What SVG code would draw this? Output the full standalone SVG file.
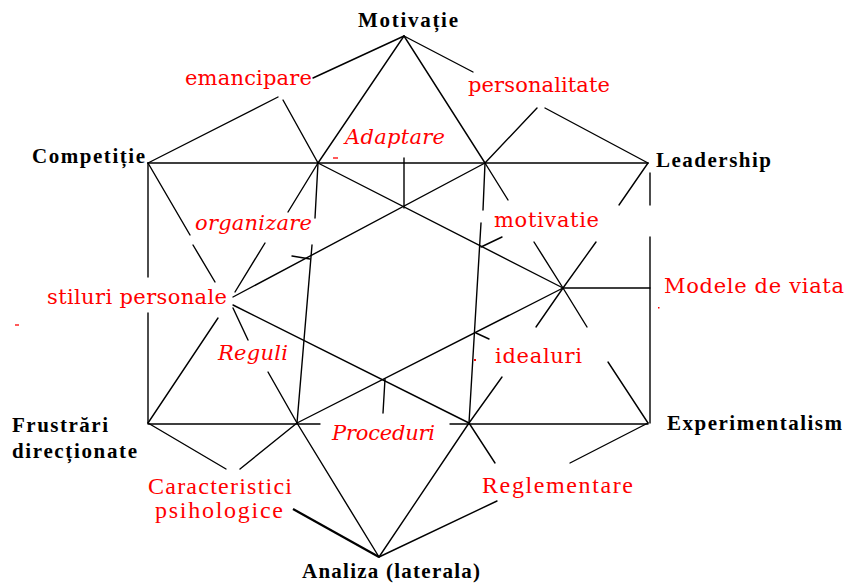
<svg xmlns="http://www.w3.org/2000/svg" width="848" height="586" viewBox="0 0 848 586">
<style>
.ln{stroke:#000;stroke-width:1.4;fill:none;stroke-linecap:round}
.thick{stroke:#000;stroke-width:2.2;fill:none}
.blk{font-family:"Liberation Serif",serif;font-weight:bold;font-size:21px;fill:#000}
.red{font-family:"DejaVu Serif","Liberation Serif",serif;font-size:21px;fill:#ff0000}
.red2{font-family:"Liberation Serif",serif;font-size:24px;fill:#ff0000}
.it{font-style:italic}
.mk{stroke:#ff0000;stroke-width:1.3}
</style>
<rect width="848" height="586" fill="#fff"/>
<g id="connectors">
<line class="ln" x1="404" y1="36" x2="313" y2="78"/>
<line class="ln" x1="404" y1="36" x2="318" y2="163"/>
<line class="ln" x1="404" y1="36" x2="485" y2="163"/>
<line class="ln" x1="404" y1="36" x2="473" y2="72"/>
<line class="ln" x1="278" y1="97" x2="148" y2="163"/>
<line class="ln" x1="283" y1="100" x2="318" y2="163"/>
<line class="ln" x1="537" y1="108" x2="485" y2="163"/>
<line class="ln" x1="545" y1="108" x2="648" y2="163"/>
<line class="ln" x1="148" y1="163" x2="648" y2="163"/>
<line class="ln" x1="404" y1="158" x2="404" y2="208"/>
<line class="ln" x1="318" y1="163" x2="563" y2="288"/>
<line class="ln" x1="233" y1="297" x2="485" y2="163"/>
<line class="ln" x1="318" y1="163" x2="288" y2="212"/>
<line class="ln" x1="265" y1="243" x2="235" y2="292"/>
<line class="ln" x1="318" y1="163" x2="315" y2="218"/>
<line class="ln" x1="312" y1="245" x2="297" y2="423"/>
<line class="ln" x1="485" y1="163" x2="508" y2="200"/>
<line class="ln" x1="534" y1="242" x2="563" y2="288"/>
<line class="ln" x1="485" y1="163" x2="483" y2="210"/>
<line class="ln" x1="481" y1="223" x2="469" y2="423"/>
<line class="ln" x1="648" y1="163" x2="619" y2="205"/>
<line class="ln" x1="596" y1="242" x2="563" y2="288"/>
<line class="ln" x1="563" y1="288" x2="650" y2="288"/>
<line class="ln" x1="650" y1="173" x2="650" y2="205"/>
<line class="ln" x1="650" y1="237" x2="650" y2="423"/>
<line class="ln" x1="563" y1="288" x2="297" y2="423"/>
<line class="ln" x1="563" y1="288" x2="536" y2="327"/>
<line class="ln" x1="502" y1="377" x2="469" y2="423"/>
<line class="ln" x1="563" y1="288" x2="587" y2="327"/>
<line class="ln" x1="608" y1="362" x2="648" y2="423"/>
<line class="ln" x1="148" y1="163" x2="190" y2="235"/>
<line class="ln" x1="193" y1="245" x2="215" y2="282"/>
<line class="ln" x1="233" y1="308" x2="248" y2="340"/>
<line class="ln" x1="268" y1="372" x2="297" y2="423"/>
<line class="ln" x1="218" y1="318" x2="148" y2="423"/>
<line class="ln" x1="148" y1="163" x2="148" y2="277"/>
<line class="ln" x1="148" y1="313" x2="148" y2="423"/>
<line class="ln" x1="233" y1="305" x2="469" y2="423"/>
<line class="ln" x1="385" y1="379" x2="383" y2="413"/>
<line class="ln" x1="148" y1="424" x2="320" y2="424"/>
<line class="ln" x1="450" y1="424" x2="648" y2="424"/>
<line class="ln" x1="297" y1="423" x2="240" y2="469"/>
<line class="ln" x1="297" y1="423" x2="379" y2="557"/>
<line class="ln" x1="148" y1="423" x2="226" y2="469"/>
<line class="thick" x1="293" y1="509" x2="379" y2="557"/>
<line class="ln" x1="469" y1="423" x2="379" y2="557"/>
<line class="ln" x1="469" y1="423" x2="495" y2="463"/>
<line class="ln" x1="497" y1="501" x2="379" y2="557"/>
<line class="ln" x1="648" y1="423" x2="570" y2="463"/>
<line class="ln" x1="292" y1="256" x2="310" y2="259"/>
<line class="ln" x1="481" y1="247" x2="502" y2="237"/>
<line class="ln" x1="476" y1="333" x2="489" y2="339"/>
</g>
<g id="marks">
<line class="mk" x1="333" y1="158" x2="338" y2="158"/>
<line class="mk" x1="15" y1="325" x2="19" y2="325"/>
<rect x="658" y="307" width="1.5" height="1.5" fill="#ff0000"/>
<rect x="474" y="359" width="2" height="2" fill="#ff0000"/>
</g>
<g id="motivatie-top"><text class="blk" x="358" y="27" textLength="100" lengthAdjust="spacing">Motivație</text></g>
<g id="competitie"><text class="blk" x="32" y="163" textLength="113" lengthAdjust="spacing">Competiție</text></g>
<g id="leadership"><text class="blk" x="656" y="167" textLength="115" lengthAdjust="spacing">Leadership</text></g>
<g id="experimentalism"><text class="blk" x="667" y="430" textLength="175" lengthAdjust="spacing">Experimentalism</text></g>
<g id="frustrari"><text class="blk" x="12" y="432" textLength="96" lengthAdjust="spacing">Frustrări</text><text class="blk" x="12" y="458" textLength="125" lengthAdjust="spacing">direcționate</text></g>
<g id="analiza"><text class="blk" x="302" y="578" textLength="178" lengthAdjust="spacing">Analiza (laterala)</text></g>
<g id="emancipare"><text class="red" x="185" y="85" textLength="127" lengthAdjust="spacing">emancipare</text></g>
<g id="personalitate"><text class="red" x="468" y="92" textLength="142" lengthAdjust="spacing">personalitate</text></g>
<g id="adaptare"><text class="red it" x="345" y="144" textLength="100" lengthAdjust="spacing">Adaptare</text></g>
<g id="organizare"><text class="red it" x="195" y="230" textLength="117" lengthAdjust="spacing">organizare</text></g>
<g id="motivatie"><text class="red" x="494" y="227" textLength="105" lengthAdjust="spacing">motivatie</text></g>
<g id="stiluri"><text class="red" x="47" y="304" textLength="180" lengthAdjust="spacing">stiluri personale</text></g>
<g id="modele"><text class="red" x="664" y="293" textLength="180" lengthAdjust="spacing">Modele de viata</text></g>
<g id="reguli"><text class="red it" x="218" y="360" textLength="70" lengthAdjust="spacing">Reguli</text></g>
<g id="idealuri"><text class="red" x="495" y="363" textLength="87" lengthAdjust="spacing">idealuri</text></g>
<g id="proceduri"><text class="red it" x="332" y="440" textLength="103" lengthAdjust="spacing">Proceduri</text></g>
<g id="caracteristici"><text class="red2" x="148" y="494" textLength="144" lengthAdjust="spacing">Caracteristici</text><text class="red2" x="155" y="518" textLength="128" lengthAdjust="spacing">psihologice</text></g>
<g id="reglementare"><text class="red2" x="482" y="493" textLength="151" lengthAdjust="spacing">Reglementare</text></g>
</svg>
